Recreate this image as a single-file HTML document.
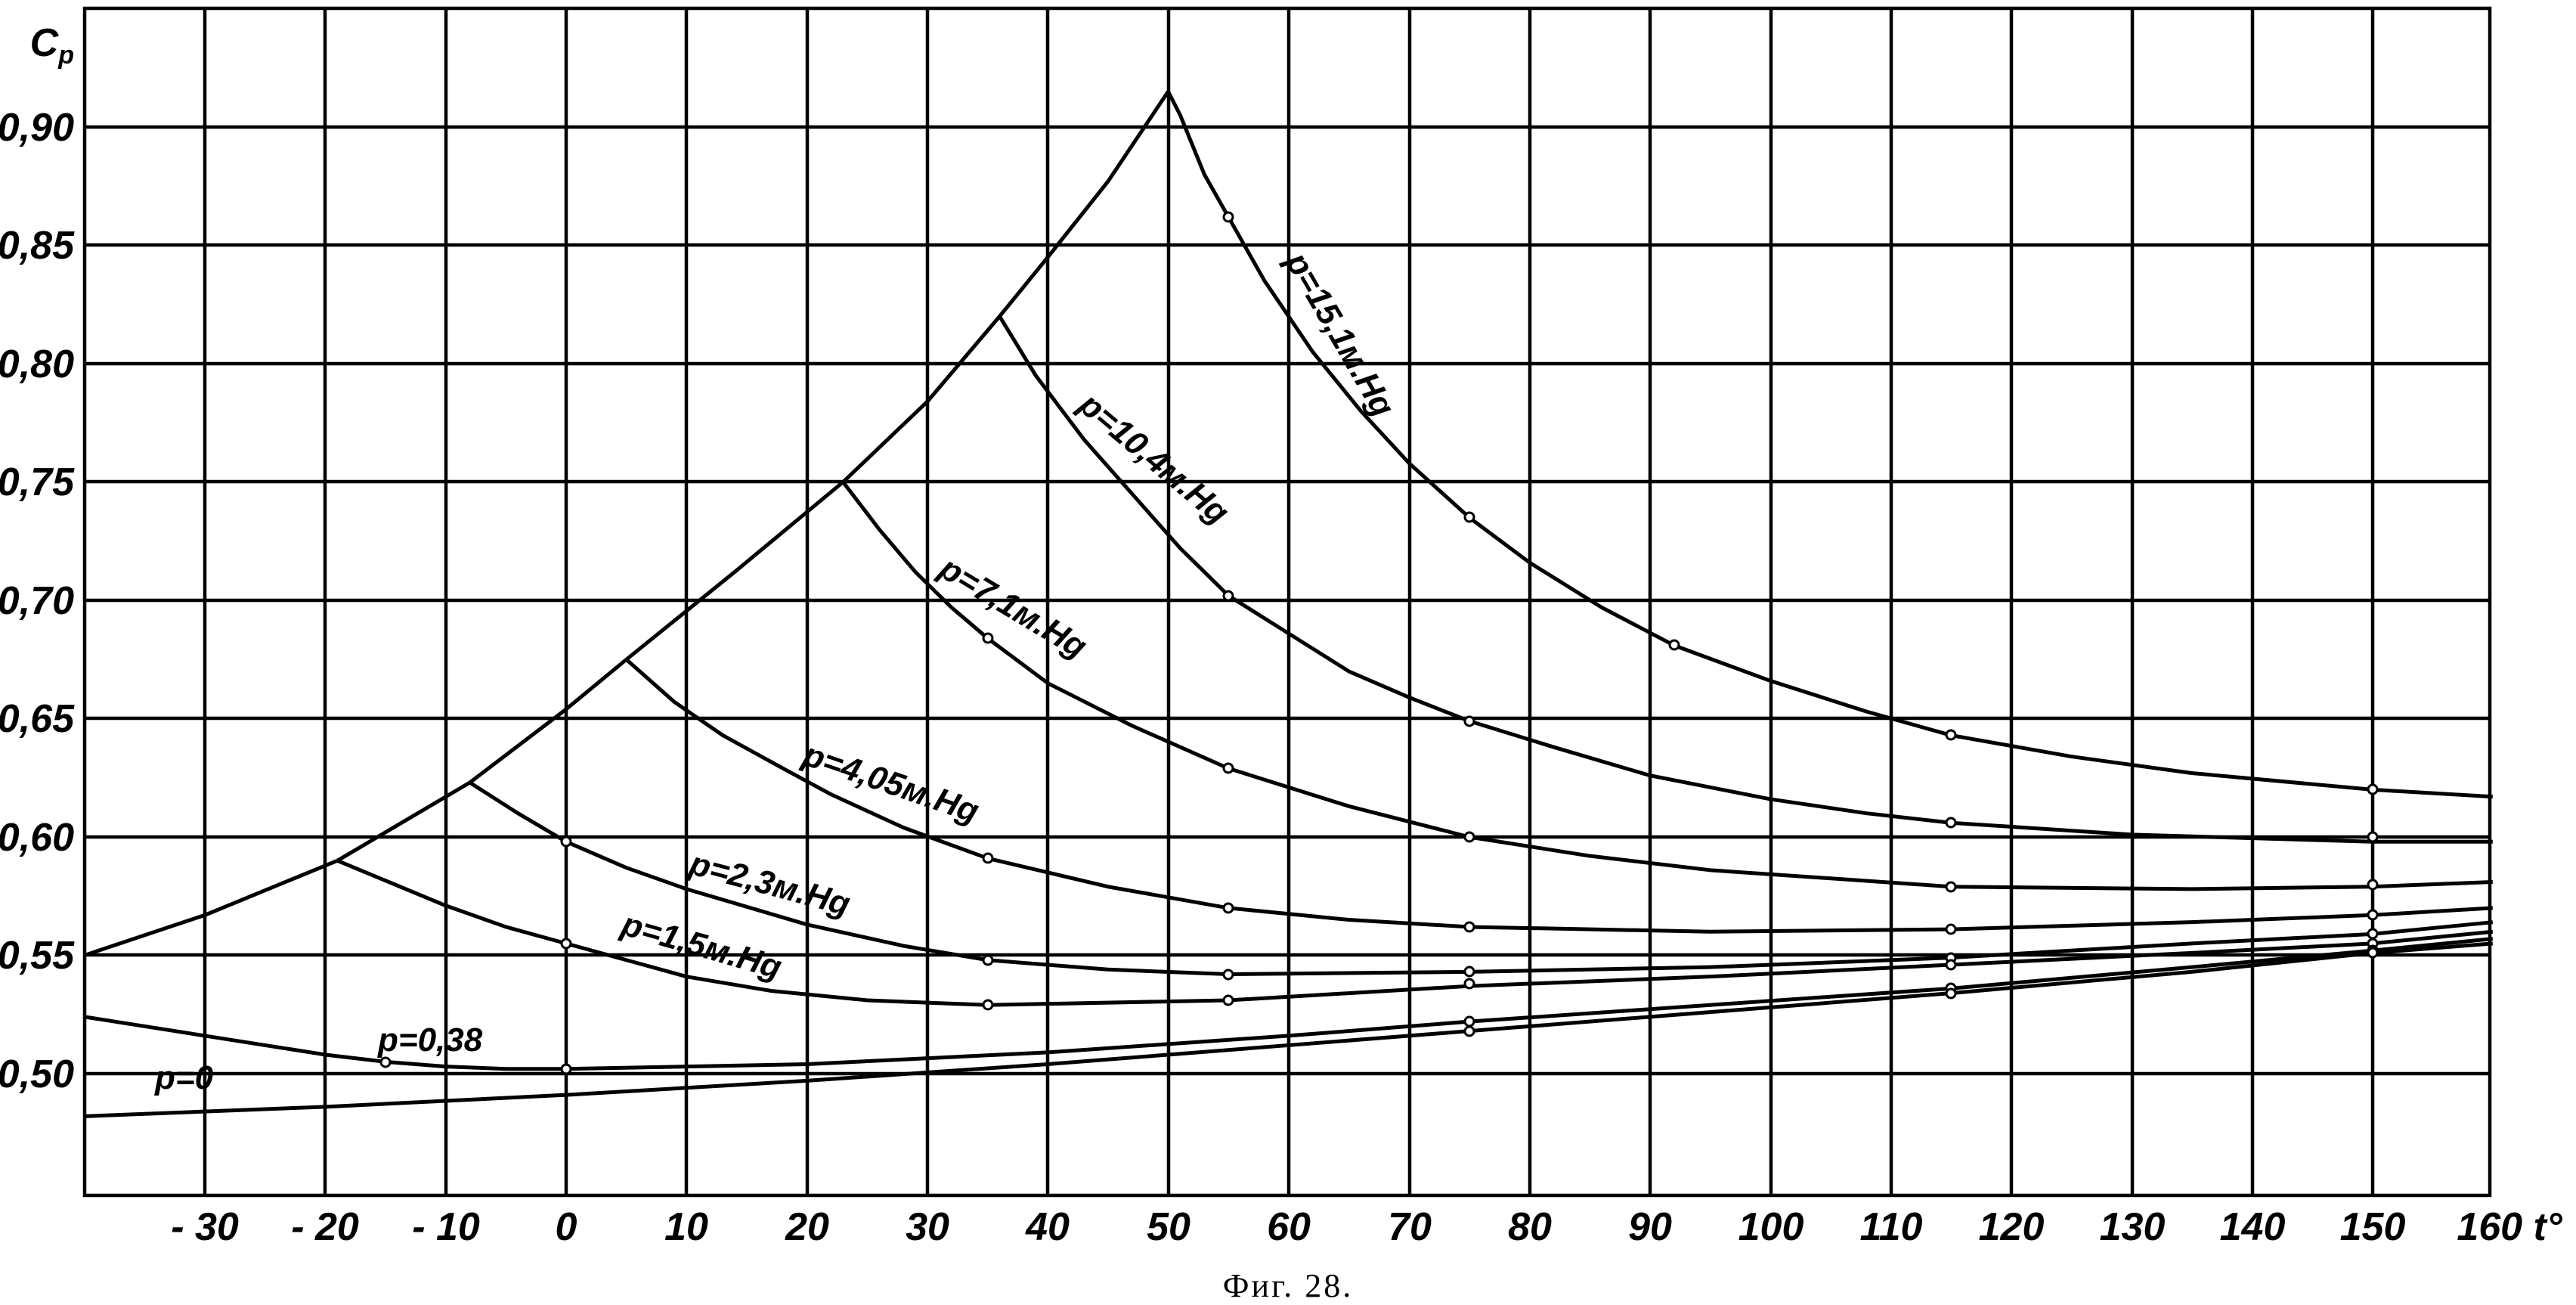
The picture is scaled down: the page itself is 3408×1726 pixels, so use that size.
<!DOCTYPE html>
<html><head><meta charset="utf-8"><style>
html,body{margin:0;padding:0;background:#fff;}
svg{display:block;}
text{font-family:"Liberation Sans",sans-serif;font-style:italic;font-weight:bold;fill:#000;}
</style></head><body>
<svg width="3408" height="1726" viewBox="0 0 3408 1726" xmlns="http://www.w3.org/2000/svg">
<rect width="3408" height="1726" fill="#fff"/>
<g stroke="#000" stroke-width="4.5" fill="none">
<rect x="112" y="11" width="3182" height="1570"/>
<line x1="271" y1="11" x2="271" y2="1581"/><line x1="430" y1="11" x2="430" y2="1581"/><line x1="590" y1="11" x2="590" y2="1581"/><line x1="749" y1="11" x2="749" y2="1581"/><line x1="908" y1="11" x2="908" y2="1581"/><line x1="1068" y1="11" x2="1068" y2="1581"/><line x1="1227" y1="11" x2="1227" y2="1581"/><line x1="1386" y1="11" x2="1386" y2="1581"/><line x1="1546" y1="11" x2="1546" y2="1581"/><line x1="1705" y1="11" x2="1705" y2="1581"/><line x1="1865" y1="11" x2="1865" y2="1581"/><line x1="2024" y1="11" x2="2024" y2="1581"/><line x1="2183" y1="11" x2="2183" y2="1581"/><line x1="2343" y1="11" x2="2343" y2="1581"/><line x1="2502" y1="11" x2="2502" y2="1581"/><line x1="2661" y1="11" x2="2661" y2="1581"/><line x1="2821" y1="11" x2="2821" y2="1581"/><line x1="2980" y1="11" x2="2980" y2="1581"/><line x1="3139" y1="11" x2="3139" y2="1581"/>
<line x1="112" y1="168" x2="3294" y2="168"/><line x1="112" y1="324" x2="3294" y2="324"/><line x1="112" y1="481" x2="3294" y2="481"/><line x1="112" y1="637" x2="3294" y2="637"/><line x1="112" y1="794" x2="3294" y2="794"/><line x1="112" y1="950" x2="3294" y2="950"/><line x1="112" y1="1107" x2="3294" y2="1107"/><line x1="112" y1="1263" x2="3294" y2="1263"/><line x1="112" y1="1420" x2="3294" y2="1420"/>
</g>
<g fill="none" stroke="#000" stroke-width="5" stroke-linejoin="round" transform="translate(749,1420) scale(15.93,-3130) translate(0,-0.5)">
<polyline vector-effect="non-scaling-stroke" points="-40,0.55 -30,0.567 -19,0.59 -8,0.623 0,0.654 5,0.675 14,0.712 23,0.75 30,0.784 36,0.82 40,0.845 45,0.877 50,0.915"/>
<polyline vector-effect="non-scaling-stroke" points="50,0.915 51,0.905 53,0.88 55,0.862 58,0.835 62,0.805 66,0.780 70,0.758 75,0.735 80,0.716 86,0.697 92,0.681 100,0.666 108,0.653 115,0.643 125,0.634 135,0.627 150,0.62 160,0.617"/>
<polyline vector-effect="non-scaling-stroke" points="36,0.82 39,0.795 43,0.768 47,0.745 51,0.722 55,0.702 60,0.686 65,0.670 70,0.659 75,0.649 82,0.638 90,0.626 100,0.616 108,0.610 115,0.606 130,0.601 150,0.598 160,0.598"/>
<polyline vector-effect="non-scaling-stroke" points="23,0.75 26,0.730 29,0.712 32,0.697 35,0.684 40,0.665 47,0.647 55,0.629 65,0.613 75,0.600 85,0.592 95,0.586 115,0.579 135,0.578 150,0.579 160,0.581"/>
<polyline vector-effect="non-scaling-stroke" points="5,0.675 9,0.657 13,0.643 18,0.629 22,0.618 28,0.604 35,0.591 45,0.579 55,0.570 65,0.565 75,0.562 95,0.56 115,0.561 135,0.564 150,0.567 160,0.570"/>
<polyline vector-effect="non-scaling-stroke" points="-8,0.623 -4,0.61 0,0.598 5,0.587 10,0.578 20,0.563 28,0.554 35,0.548 45,0.544 55,0.542 75,0.543 95,0.545 115,0.549 135,0.555 150,0.559 160,0.564"/>
<polyline vector-effect="non-scaling-stroke" points="-19,0.59 -10,0.571 -5,0.562 0,0.555 5,0.548 10,0.541 17,0.535 25,0.531 35,0.529 55,0.531 75,0.537 95,0.541 115,0.546 135,0.551 150,0.555 160,0.560"/>
<polyline vector-effect="non-scaling-stroke" points="-40,0.524 -30,0.516 -20,0.508 -15,0.505 -10,0.503 -5,0.502 0,0.502 20,0.504 40,0.509 60,0.516 75,0.522 95,0.529 115,0.536 135,0.545 150,0.552 160,0.557"/>
<polyline vector-effect="non-scaling-stroke" points="-40,0.482 -20,0.486 0,0.491 20,0.497 40,0.504 60,0.512 75,0.518 95,0.526 115,0.534 135,0.543 150,0.551 160,0.555"/>
</g>
<g fill="#fff" stroke="#000" stroke-width="3">
<circle cx="1625" cy="287" r="6"/><circle cx="1944" cy="684" r="6"/><circle cx="2215" cy="853" r="6"/><circle cx="2581" cy="972" r="6"/><circle cx="3139" cy="1044" r="6"/>
<circle cx="1625" cy="788" r="6"/><circle cx="1944" cy="954" r="6"/><circle cx="2581" cy="1088" r="6"/><circle cx="3139" cy="1107" r="6"/>
<circle cx="1307" cy="844" r="6"/><circle cx="1625" cy="1016" r="6"/><circle cx="1944" cy="1107" r="6"/><circle cx="2581" cy="1173" r="6"/><circle cx="3139" cy="1170" r="6"/>
<circle cx="1307" cy="1135" r="6"/><circle cx="1625" cy="1201" r="6"/><circle cx="1944" cy="1226" r="6"/><circle cx="2581" cy="1229" r="6"/><circle cx="3139" cy="1210" r="6"/>
<circle cx="749" cy="1113" r="6"/><circle cx="1307" cy="1270" r="6"/><circle cx="1625" cy="1289" r="6"/><circle cx="1944" cy="1285" r="6"/><circle cx="2581" cy="1267" r="6"/><circle cx="3139" cy="1235" r="6"/>
<circle cx="749" cy="1248" r="6"/><circle cx="1307" cy="1329" r="6"/><circle cx="1625" cy="1323" r="6"/><circle cx="1944" cy="1301" r="6"/><circle cx="2581" cy="1276" r="6"/><circle cx="3139" cy="1248" r="6"/>
<circle cx="510" cy="1405" r="6"/><circle cx="749" cy="1414" r="6"/><circle cx="1944" cy="1351" r="6"/><circle cx="2581" cy="1307" r="6"/><circle cx="3139" cy="1257" r="6"/>
<circle cx="1944" cy="1364" r="6"/><circle cx="2581" cy="1314" r="6"/><circle cx="3139" cy="1260" r="6"/>
</g>
<g font-size="44">
<text transform="translate(1700,345) rotate(60)">p=15,1м.Hg</text>
<text transform="translate(1425,540) rotate(40)">p=10,4м.Hg</text>
<text transform="translate(1240,760) rotate(31)">p=7,1м.Hg</text>
<text transform="translate(1060,1010) rotate(19)">p=4,05м.Hg</text>
<text transform="translate(910,1155) rotate(15)">p=2,3м.Hg</text>
<text transform="translate(820,1235) rotate(16)">p=1,5м.Hg</text>
<text x="500" y="1390">p=0,38</text>
<text x="205" y="1440">p=0</text>
</g>
<g font-size="52" text-anchor="end">
<text x="98" y="74">C<tspan font-size="34" dy="10">p</tspan></text>
<text x="98" y="186">0,90</text><text x="98" y="342">0,85</text><text x="98" y="499">0,80</text><text x="98" y="655">0,75</text><text x="98" y="812">0,70</text><text x="98" y="968">0,65</text><text x="98" y="1125">0,60</text><text x="98" y="1281">0,55</text><text x="98" y="1438">0,50</text>
</g>
<g font-size="52" text-anchor="middle">
<text x="271" y="1640">- 30</text><text x="430" y="1640">- 20</text><text x="590" y="1640">- 10</text><text x="749" y="1640">0</text><text x="908" y="1640">10</text><text x="1068" y="1640">20</text><text x="1227" y="1640">30</text><text x="1386" y="1640">40</text><text x="1546" y="1640">50</text><text x="1705" y="1640">60</text><text x="1865" y="1640">70</text><text x="2024" y="1640">80</text><text x="2183" y="1640">90</text><text x="2343" y="1640">100</text><text x="2502" y="1640">110</text><text x="2661" y="1640">120</text><text x="2821" y="1640">130</text><text x="2980" y="1640">140</text><text x="3139" y="1640">150</text><text x="3320" y="1640">160 t°</text>
</g>
<text x="1704" y="1715" font-size="44" letter-spacing="3" text-anchor="middle" style="font-family:'Liberation Serif',serif;font-style:normal;font-weight:normal;">Фиг. 28.</text>
</svg>
</body></html>
